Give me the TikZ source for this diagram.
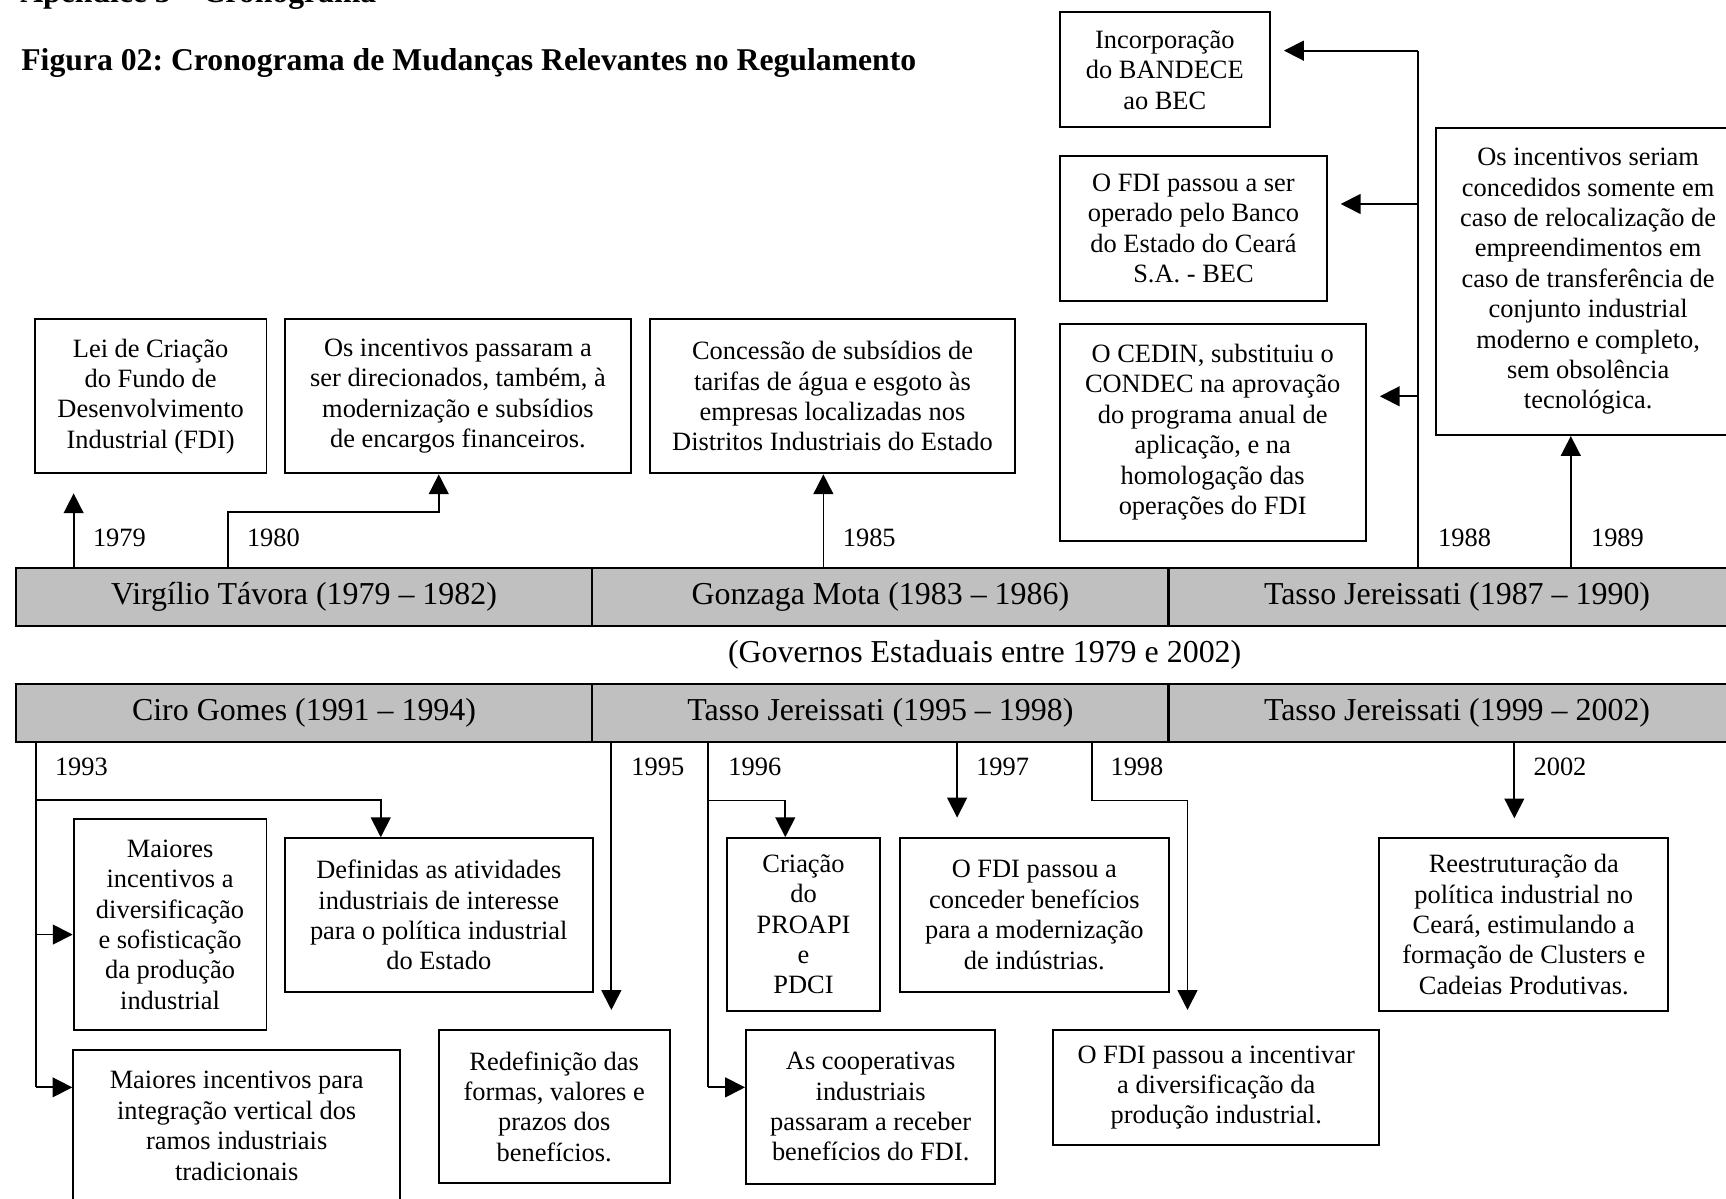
\documentclass[tikz,border=0pt]{standalone}
\usepackage{fontspec}
\setmainfont{Liberation Serif}
\usetikzlibrary{arrows.meta}
\definecolor{barfill}{RGB}{192,192,192}
\frenchspacing
\begin{document}
\begin{tikzpicture}[x=0.5pt, y=-0.5pt,
  box/.style={draw, line width=0.9pt, align=center, inner sep=0pt, font=\fontsize{12}{13.8}\selectfont},
  gov/.style={draw, line width=1.1pt, fill=barfill, minimum width=261.75pt, minimum height=26.3pt, inner sep=0pt, font=\fontsize{14.5}{16}\selectfont},
  yr/.style={inner sep=0pt, font=\fontsize{12}{14}\selectfont},
  head/.style={anchor=base west, inner sep=0pt, font=\bfseries\fontsize{14.4}{16}\selectfont},
  conn/.style={line width=0.8pt},
  arr/.style={conn, -{Triangle[length=9pt,width=9pt]}}
]
\useasboundingbox (0,0) rectangle (1568,1089);

% headings
\node[head] (apx) at (18,2) {Apêndice 3 – Cronograma};
\node[head] (title) at (19,64) {Figura 02: Cronograma de Mudanças Relevantes no Regulamento};

% government bars
\node[gov] (vt1) at (276.2,542.5) {Virgílio Távora (1979 – 1982)};
\node[gov] (vt2) at (799.75,542.5) {Gonzaga Mota (1983 – 1986)};
\node[gov] (vt3) at (1323.65,542.5) {Tasso Jereissati (1987 – 1990)};
\node[inner sep=0pt, font=\fontsize{14.5}{16}\selectfont] (cap) at (894.5,595) {(Governos Estaduais entre 1979 e 2002)};
\node[gov] (vb1) at (276.2,647.5) {Ciro Gomes (1991 – 1994)};
\node[gov] (vb2) at (799.75,647.5) {Tasso Jereissati (1995 – 1998)};
\node[gov] (vb3) at (1323.65,647.5) {Tasso Jereissati (1999 – 2002)};

% upper boxes
\node[box, minimum width=105.25pt, minimum height=70pt] (fdi) at (136.85,360) {Lei de Criação\\do Fundo de\\Desenvolvimento\\Industrial (FDI)};
\node[box, minimum width=157pt, minimum height=70pt] (modern) at (416,360) {Os incentivos passaram a\\ser direcionados, também, à\\modernização e subsídios\\de encargos financeiros.};
\node[box, minimum width=165.8pt, minimum height=70pt] (agua) at (756.3,360) {Concessão de subsídios de\\tarifas de água e esgoto às\\empresas localizadas nos\\Distritos Industriais do Estado};
\node[box, minimum width=95.55pt, minimum height=52.25pt] (bandece) at (1058.15,63.45) {Incorporação\\do BANDECE\\ao BEC};
\node[box, minimum width=121.6pt, minimum height=65.75pt] (bec) at (1084.2,207.45) {O FDI passou a ser\\operado pelo Banco\\do Estado do Ceará\\S.A. - BEC};
\node[box, minimum width=139.05pt, minimum height=98.6pt] (cedin) at (1101.65,392.6) {O CEDIN, substituiu o\\CONDEC na aprovação\\do programa anual de\\aplicação, e na\\homologação das\\operações do FDI};
\node[box, minimum width=138.25pt, minimum height=139.6pt] (reloc) at (1442.75,255.6) {Os incentivos seriam\\concedidos somente em\\caso de relocalização de\\empreendimentos em\\caso de transferência de\\conjunto industrial\\moderno e completo,\\sem obsolência\\tecnológica.};

% lower boxes
\node[box, minimum width=87.6pt, minimum height=96pt] (divers) at (154.5,840) {Maiores\\incentivos a\\diversificação\\e sofisticação\\da produção\\industrial};
\node[box, minimum width=139.9pt, minimum height=69.75pt] (ativ) at (398.6,831.25) {Definidas as atividades\\industriais de interesse\\para o política industrial\\do Estado};
\node[box, minimum width=148.4pt, minimum height=69.25pt] (vert) at (215,1022.75) {Maiores incentivos para\\integração vertical dos\\ramos industriais\\tradicionais};
\node[box, minimum width=104.85pt, minimum height=69.8pt] (redef) at (503.45,1005.2) {Redefinição das\\formas, valores e\\prazos dos\\benefícios.};
\node[box, minimum width=69.7pt, minimum height=78.4pt] (proapi) at (730,839.8) {Criação\\do\\PROAPI\\e\\PDCI};
\node[box, minimum width=113.3pt, minimum height=69.95pt] (coop) at (791,1005.35) {As cooperativas\\industriais\\passaram a receber\\benefícios do FDI.};
\node[box, minimum width=122.45pt, minimum height=69.8pt] (modind) at (939.65,831.2) {O FDI passou a\\conceder benefícios\\para a modernização\\de indústrias.};
\node[box, minimum width=148.15pt, minimum height=52.6pt] (diver) at (1104.85,988) {O FDI passou a incentivar\\a diversificação da\\produção industrial.};
\node[box, minimum width=131.3pt, minimum height=78.2pt] (clus) at (1384.3,839.8) {Reestruturação da\\política industrial no\\Ceará, estimulando a\\formação de Clusters e\\Cadeias Produtivas.};

% year labels
\node[yr] (y79) at (108.5,489) {1979};
\node[yr] (y80) at (248.4,489) {1980};
\node[yr] (y85) at (789.7,489) {1985};
\node[yr] (y88) at (1330.5,489) {1988};
\node[yr] (y89) at (1469.4,489) {1989};
\node[yr] (y93) at (74,696.4) {1993};
\node[yr] (y95) at (597.6,696.4) {1995};
\node[yr] (y96) at (685.8,696.4) {1996};
\node[yr] (y97) at (910.9,696.4) {1997};
\node[yr] (y98) at (1032.9,696.4) {1998};
\node[yr] (y02) at (1417.2,697) {2002};

% upper connectors
\coordinate (k79) at (66.9,448.2);
\draw[arr] (k79 |- vt1.north) -- (k79);
\coordinate (k80a) at (206.8,464.8);
\coordinate (k80b) at (398.6,464.8);
\draw[arr] (k80a |- vt1.north) -- (k80a) -- (k80b) -- (k80b |- modern.south);
\coordinate (k85) at (748,480);
\draw[arr] (k85 |- vt2.north) -- (k85 |- agua.south);
\coordinate (k88) at (1288,46);
\coordinate (t88a) at (1166.4,46);
\coordinate (t88b) at (1218,185.3);
\coordinate (t88c) at (1253.5,360);
\draw[conn] (k88 |- vt3.north) -- (k88);
\draw[arr] (k88) -- (t88a);
\draw[arr] (k88 |- t88b) -- (t88b);
\draw[arr] (k88 |- t88c) -- (t88c);
\coordinate (k89) at (1427,480);
\draw[arr] (k89 |- vt3.north) -- (k89 |- reloc.south);

% lower connectors
\coordinate (k93) at (32.4,987.8);
\draw[conn] (k93 |- vb1.south) -- (k93);
\draw[arr] (k93) -- (k93 -| vert.west);
\coordinate (k93m) at (32.4,849);
\draw[arr] (k93m) -- (k93m -| divers.west);
\coordinate (k93a) at (32.4,726.5);
\coordinate (k93b) at (345.9,726.5);
\draw[arr] (k93a) -- (k93b) -- (k93b |- ativ.north);
\coordinate (k95) at (555.4,917.5);
\draw[arr] (k95 |- vb2.south) -- (k95);
\coordinate (k96) at (643.2,987.8);
\draw[conn] (k96 |- vb2.south) -- (k96);
\draw[arr] (k96) -- (k96 -| coop.west);
\coordinate (k96a) at (643.2,727.1);
\coordinate (k96b) at (713.4,727.1);
\draw[arr] (k96a) -- (k96b) -- (k96b |- proapi.north);
\coordinate (k97) at (869.5,742.7);
\draw[arr] (k97 |- vb2.south) -- (k97);
\coordinate (k98a) at (992,727.1);
\coordinate (k98b) at (1078.8,727.1);
\coordinate (t98) at (1078.8,917.5);
\draw[arr] (k98a |- vb2.south) -- (k98a) -- (k98b) -- (t98);
\coordinate (k02) at (1375.7,743.4);
\draw[arr] (k02 |- vb3.south) -- (k02);
\end{tikzpicture}
\end{document}
